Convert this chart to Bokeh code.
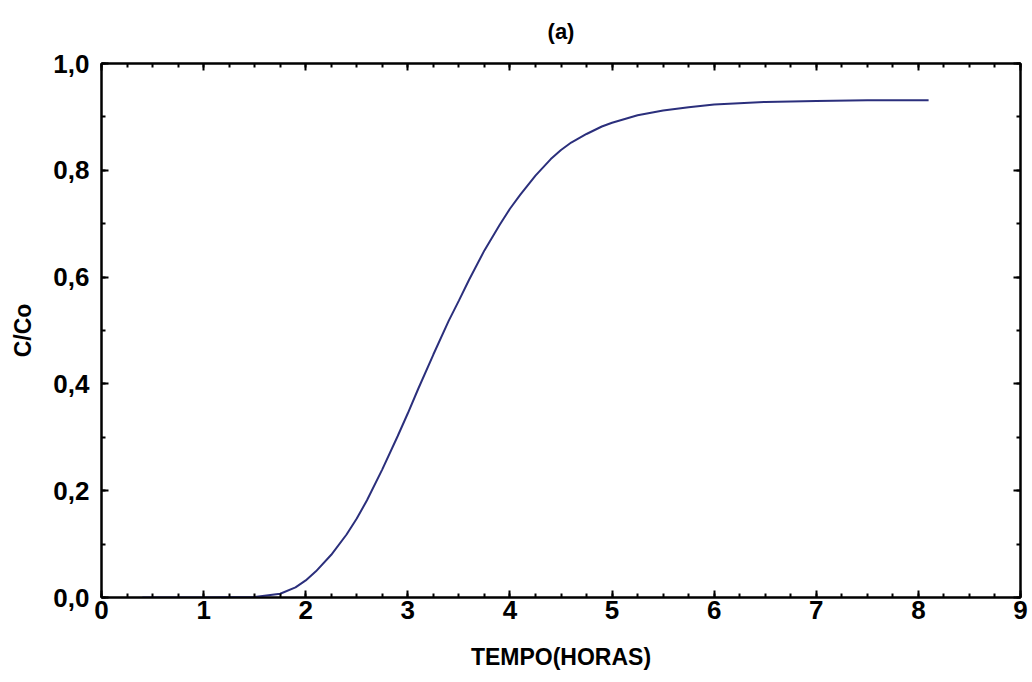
from bokeh.plotting import figure
from bokeh.models import LinearAxis, CustomJSTickFormatter, FixedTicker, Range1d
from bokeh.embed import file_html
from bokeh.resources import INLINE

# data
tempo = [0.4, 1.0, 1.5, 1.75, 1.9, 2.0, 2.1, 2.25, 2.4, 2.5, 2.6, 2.75, 2.9, 3.0, 3.1, 3.25,
         3.4, 3.5, 3.6, 3.75, 3.9, 4.0, 4.1, 4.25, 4.4, 4.5, 4.6, 4.75, 4.9, 5.0, 5.25, 5.5,
         5.75, 6.0, 6.5, 7.0, 7.5, 8.1]
c_co = [0.0, 0.0, 0.001, 0.007, 0.019, 0.032, 0.049, 0.08, 0.118, 0.148, 0.182, 0.24, 0.302,
        0.345, 0.39, 0.455, 0.518, 0.556, 0.595, 0.65, 0.698, 0.728, 0.754, 0.79, 0.821,
        0.838, 0.852, 0.868, 0.882, 0.889, 0.903, 0.912, 0.918, 0.923, 0.928, 0.93, 0.931,
        0.931]
x_ticks = [0, 1, 2, 3, 4, 5, 6, 7, 8, 9]
y_ticks = [0.0, 0.2, 0.4, 0.6, 0.8, 1.0]
title_text = "(a)"

FONT = "Liberation Sans"

p = figure(width=1032, height=682, output_backend="svg", toolbar_location=None,
           x_range=Range1d(0, 9), y_range=Range1d(0, 1),
           min_border_left=101, min_border_right=12, min_border_top=63, min_border_bottom=85,
           x_axis_label="TEMPO(HORAS)", y_axis_label="C/Co", title=title_text)

p.line(tempo, c_co, line_color="#2b2f7c", line_width=2)

p.grid.visible = False
p.outline_line_color = "black"
p.outline_line_width = 2
p.background_fill_color = "white"
p.border_fill_color = "white"

p.title.align = "center"
p.title.vertical_align = "top"
p.title.text_font = FONT
p.title.text_font_size = "22px"
p.title.text_font_style = "bold"
p.title.text_color = "black"
p.title.standoff = 35

xfmt = CustomJSTickFormatter(code="return tick.toFixed(0);")
yfmt = CustomJSTickFormatter(code="return tick.toFixed(1).replace('.', ',');")
blank = CustomJSTickFormatter(code="return '';")

def style(ax):
    ax.major_tick_in = 7
    ax.major_tick_out = 0
    ax.minor_tick_in = 4
    ax.minor_tick_out = 0
    ax.axis_line_color = "black"
    ax.axis_line_width = 2
    ax.major_tick_line_width = 2
    ax.minor_tick_line_width = 2
    ax.major_label_text_font = FONT
    ax.major_label_text_font_style = "bold"
    ax.major_label_text_font_size = "26px"
    ax.major_label_text_color = "black"
    ax.axis_label_text_font = FONT
    ax.axis_label_text_font_style = "bold"
    ax.axis_label_text_font_size = "23px"
    ax.axis_label_text_color = "black"

xa = p.xaxis[0]
xa.ticker = FixedTicker(ticks=x_ticks, minor_ticks=[i * 0.25 for i in range(37)])
xa.formatter = xfmt
style(xa)
xa.major_label_standoff = 3
xa.axis_label_standoff = 22

ya = p.yaxis[0]
ya.ticker = FixedTicker(ticks=y_ticks, minor_ticks=[i * 0.1 for i in range(11)])
ya.formatter = yfmt
style(ya)
ya.major_label_standoff = 12
ya.axis_label_standoff = 14

top = LinearAxis(ticker=FixedTicker(ticks=x_ticks, minor_ticks=[i * 0.25 for i in range(37)]),
                 formatter=blank)
style(top)
top.major_label_standoff = 0
top.major_label_text_font_size = "1px"
p.add_layout(top, "above")
right = LinearAxis(ticker=FixedTicker(ticks=y_ticks, minor_ticks=[i * 0.1 for i in range(11)]),
                   formatter=blank)
style(right)
right.major_label_standoff = 0
right.major_label_text_font_size = "1px"
p.add_layout(right, "right")

open("out.html", "w").write(file_html(p, INLINE))
